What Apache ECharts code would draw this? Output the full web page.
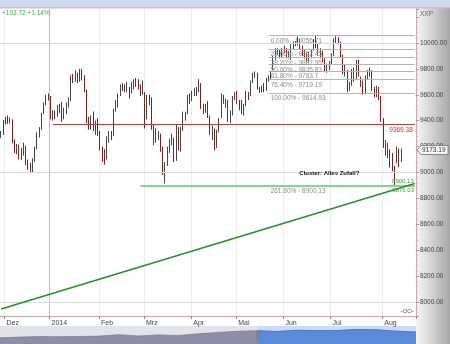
<!DOCTYPE html>
<html><head><meta charset="utf-8">
<script src="https://cdn.jsdelivr.net/npm/echarts@6/dist/echarts.min.js"></script>
<style>html,body{margin:0;padding:0;background:#fff}#c{width:450px;height:344px}</style>
</head><body><div id="c"></div>
<script>
// ---------- data ----------
const monthLabels = ['Dez','2014','Feb','Mrz','Apr','Mai','Jun','Jul','Aug'];
const leadBars = 2;                       // 28./29. Nov 2013
const barsPerMonth = [20,22,20,21,20,21,21,23,9];
const padSlots = 6;
// [open, close, low, high]
const novBars = [[9290,9300,9265,9320],[9300,9390,9290,9405]];
const decBars = [
[9395,9410,9370,9430],[9410,9395,9375,9440],[9395,9405,9380,9425],[9400,9240,9225,9410],[9240,9180,9150,9255],
[9185,9200,9140,9220],[9200,9120,9100,9215],[9120,9160,9095,9190],[9160,9200,9130,9230],[9195,9070,9055,9205],
[9070,9050,9020,9100],[9050,9010,8995,9075],[9010,9090,9000,9110],[9100,9180,9080,9200],[9190,9290,9180,9310],
[9290,9330,9270,9350],[9340,9440,9330,9460],[9460,9520,9450,9540],[9540,9580,9520,9600],[9570,9590,9555,9610]];
const janBars = [
[9580,9430,9410,9590],[9430,9450,9400,9480],[9450,9440,9410,9480],[9440,9500,9430,9520],[9500,9490,9460,9530],
[9495,9420,9390,9545],[9430,9480,9410,9500],[9480,9520,9450,9540],[9520,9545,9500,9580],[9560,9730,9550,9750],
[9730,9720,9690,9760],[9720,9745,9700,9790],[9745,9720,9690,9770],[9720,9760,9700,9800],[9760,9730,9710,9800],
[9730,9640,9620,9750],[9630,9400,9380,9640],[9400,9350,9330,9430],[9350,9410,9330,9440],[9410,9340,9320,9470],
[9340,9370,9290,9400],[9370,9310,9280,9420]];
const febBars = [
[9300,9190,9170,9320],[9180,9130,9080,9200],[9130,9115,9060,9180],[9120,9260,9100,9280],[9270,9300,9230,9320],
[9300,9285,9250,9320],[9290,9480,9280,9490],[9480,9540,9470,9560],[9530,9595,9500,9610],[9600,9660,9590,9680],
[9660,9655,9630,9690],[9655,9660,9620,9680],[9660,9665,9620,9700],[9650,9615,9570,9660],[9620,9655,9610,9700],
[9660,9705,9640,9720],[9710,9700,9660,9730],[9700,9660,9640,9720],[9660,9630,9590,9680],[9630,9690,9600,9710]];
const marBars = [
[9600,9360,9340,9620],[9420,9590,9410,9600],[9580,9540,9520,9600],[9540,9350,9330,9580],[9340,9350,9210,9370],
[9330,9265,9230,9340],[9270,9300,9250,9320],[9290,9190,9160,9300],[9190,9020,8980,9200],[9010,9060,8915,9080],
[9070,9180,9050,9200],[9180,9240,9150,9260],[9240,9280,9210,9300],[9260,9095,9080,9270],[9100,9340,9090,9370],
[9330,9190,9170,9350],[9190,9340,9160,9350],[9340,9450,9320,9470],[9440,9450,9400,9470],[9460,9590,9450,9600],
[9590,9555,9530,9610]];
const aprBars = [
[9570,9600,9550,9630],[9610,9625,9590,9650],[9625,9630,9590,9660],[9640,9695,9620,9720],[9680,9510,9490,9690],
[9510,9490,9450,9530],[9490,9505,9460,9530],[9520,9455,9420,9550],[9430,9315,9290,9440],[9320,9340,9250,9360],
[9330,9175,9170,9340],[9200,9320,9190,9330],[9330,9410,9310,9420],[9430,9600,9420,9610],[9590,9545,9530,9600],
[9540,9550,9500,9570],[9540,9400,9390,9560],[9410,9445,9380,9480],[9450,9585,9440,9590],[9580,9600,9560,9620]];
const mayBars = [
[9610,9555,9530,9630],[9550,9530,9480,9560],[9530,9470,9450,9560],[9460,9520,9440,9530],[9530,9605,9510,9630],
[9600,9580,9560,9620],[9600,9700,9590,9710],[9710,9755,9690,9770],[9755,9760,9730,9780],[9750,9655,9640,9770],
[9640,9630,9615,9660],[9620,9660,9618,9670],[9665,9640,9620,9690],[9640,9720,9630,9730],[9720,9725,9700,9750],
[9730,9770,9720,9780],[9800,9890,9790,9900],[9890,9940,9870,9960],[9940,9935,9910,9960],[9930,9900,9880,9950],
[9910,9945,9890,9960]];
const junBars = [
[9950,9955,9920,9980],[9950,9920,9880,9960],[9910,9925,9880,9940],[9930,9950,9870,9990],[9960,9990,9950,10010],
[9990,9995,9975,10015],[9995,10030,9980,10050],[10020,9970,9950,10030],[9960,9940,9900,9980],[9930,9910,9880,9950],
[9890,9880,9850,9920],[9880,9920,9850,9930],[9920,9930,9880,9950],[9950,10005,9940,10030],[10000,9987,9960,10057],
[9980,9920,9900,9990],[9920,9940,9880,9960],[9930,9870,9850,9940],[9860,9805,9780,9880],[9810,9815,9770,9840],
[9820,9835,9790,9860]];
const julBars = [
[9840,9900,9830,9920],[9910,10030,9900,10035],[10020,10050,10000,10052],[10040,10010,9990,10045],[10000,9905,9890,10010],
[9900,9770,9760,9910],[9770,9810,9740,9830],[9780,9660,9620,9790],[9650,9665,9630,9700],[9680,9785,9670,9800],
[9780,9720,9700,9810],[9730,9860,9720,9870],[9850,9755,9740,9870],[9700,9720,9660,9740],[9700,9610,9600,9710],
[9620,9735,9610,9750],[9730,9755,9720,9790],[9760,9800,9740,9810],[9780,9645,9630,9790],[9640,9595,9580,9660],
[9600,9655,9580,9670],[9640,9595,9560,9660],[9580,9410,9390,9590]];
const augBars = [
[9400,9210,9190,9420],[9220,9155,9130,9250],[9160,9190,9110,9230],[9170,9130,9040,9180],[9130,9040,9010,9150],
[9020,9010,8903,9050],[9080,9180,9070,9200],[9170,9070,9040,9185],[9090,9173.19,9080,9185]];

const yLabelValues = [8000,8200,8400,8600,8800,9000,9200,9400,9600,9800,10000];
const gridLevels = [8000,9000,10000];
const fibPercents = ['0.00%','23.60%','38.20%','50.00%','61.80%','76.40%','100.00%','261.80%'];
const fibValues = [10056.71,9952.45,9887.95,9835.83,9783.7,9719.19,9614.93,8900.13];
const fibStartIdx = 119;
const redLevel = 9369.38, redStartIdx = 23;
const greenLevel = 8900.13, greenStartIdx = 62;
const trendValues = [7946, 8915];
const trendLabel = '8876.03';
const lastPrice = 9173.19;
const changeText = '+103.72 +1.14%';
const noteText = 'Cluster: Alles Zufall?', noteIdx = 146, noteValue = 8990;

const navMonths = ['Nov12','Dez12','Jan13','Feb13','Mrz13','Apr13','Mai13','Jun13','Jul13','Aug13','Sep13','Okt13',
  'Nov13','Dez13','Jan14','Feb14','Mrz14','Apr14','Mai14','Jun14','Jul14','Aug14'];
const navValues = [7405,7612,7776,7741,7795,7914,8348,7959,8276,8103,8594,9033,9405,9552,9306,9692,9556,9603,9943,9833,9407,9173];
const navSelStart = 13;

// ---------- build ----------
const bars = [].concat(novBars,decBars,janBars,febBars,marBars,aprBars,mayBars,junBars,julBars,augBars);
const total = bars.length + padSlots;
const cats = Array.from({length: total}, (_, i) => 'b' + i);
const lastCat = cats[total - 1];
const labelAt = {};
let k = leadBars;
barsPerMonth.forEach((n, m) => { labelAt[k] = monthLabels[m]; k += n; });
const isMonthStart = (idx) => labelAt[idx] !== undefined;
const FONT = 'Liberation Sans, Arial, sans-serif';

const chart = echarts.init(document.getElementById('c'));
const vColors = monthLabels.map(l => l === '2014' ? '#bdbdbd' : '#ededed');

chart.setOption({
  animation: false,
  backgroundColor: '#ffffff',
  textStyle: {fontFamily: FONT},
  grid: [
    {left: 0, right: 34, top: 9, bottom: 28},
    {left: 0, right: 34, top: 326, height: 18}
  ],
  xAxis: [{
    type: 'category', data: cats, boundaryGap: true,
    axisLine: {show: true, lineStyle: {color: '#d6a6a6'}},
    axisTick: {show: true, interval: (i) => isMonthStart(i), length: 3, lineStyle: {color: '#888'}},
    axisLabel: {interval: (i) => isMonthStart(i), formatter: (v, i) => labelAt[i] || '',
      align: 'left', fontSize: 7, color: '#444', margin: 4, padding: [0,0,0,1], fontFamily: FONT},
    splitLine: {show: true, interval: (i) => isMonthStart(i), lineStyle: {color: vColors, width: 1}}
  }, {
    type: 'category', gridIndex: 1, data: navMonths, boundaryGap: false, show: false
  }],
  yAxis: [{
    type: 'value', position: 'right', min: 7892, max: 10262, splitNumber: 12, scale: true,
    axisLine: {show: true, lineStyle: {color: '#d6a6a6'}},
    axisTick: {show: true, length: 3, lineStyle: {color: '#999'}},
    minorTick: {show: true, splitNumber: 5, length: 2, lineStyle: {color: '#bbb'}},
    axisLabel: {fontSize: 6.5, color: '#444', margin: 4, showMinLabel: false, showMaxLabel: false,
      formatter: (v) => yLabelValues.includes(v) ? v.toFixed(2) : '', fontFamily: FONT},
    splitLine: {show: false}
  }, {
    type: 'value', gridIndex: 1, min: 5500, max: 11000, show: false
  }],
  series: [
    { // reference lines (behind candles)
      type: 'line', data: [], z: 1, silent: true,
      markLine: {
        symbol: ['none','none'], silent: true, animation: false,
        data: [
          ...gridLevels.map(v => ({yAxis: v, lineStyle: {color: '#d8d8d8', width: 1, type: 'solid'}, label: {show: false}})),
          ...fibValues.map((v, i) => [
            {xAxis: cats[fibStartIdx], yAxis: v, lineStyle: {color: '#b4b4b4', width: 1, type: 'solid'},
             label: {show: true, position: 'insideStartBottom', formatter: fibPercents[i] + ' - ' + String(v),
               color: '#8a8a8a', fontSize: 6.5, distance: 2, fontFamily: FONT}},
            {xAxis: lastCat, yAxis: v}
          ]),
          [{xAxis: cats[redStartIdx], yAxis: redLevel, lineStyle: {color: '#c23b3b', width: 1, type: 'solid'},
            label: {show: true, position: 'insideEndBottom', formatter: String(redLevel), color: '#d03030', fontSize: 6.5, distance: 2}},
           {xAxis: lastCat, yAxis: redLevel}]
        ]
      }
    },
    {
      type: 'candlestick', data: bars, z: 3, barWidth: 1.2,
      itemStyle: {color: '#6c6c6c', borderColor: '#454545', color0: '#861c1c', borderColor0: '#861c1c', borderWidth: 1}
    },
    { // green support line
      type: 'line', data: [], z: 4, silent: true,
      markLine: {symbol: ['none','none'], silent: true, data: [
        [{xAxis: cats[greenStartIdx], yAxis: greenLevel, lineStyle: {color: '#8fd08f', width: 2, type: 'solid'},
          label: {show: true, position: 'insideEndTop', formatter: String(greenLevel), color: '#3c9c3c', fontSize: 6, distance: 1}},
         {xAxis: lastCat, yAxis: greenLevel}]
      ]}
    },
    { // trend line
      type: 'line', z: 5, symbol: 'none', silent: true,
      data: [[cats[0], trendValues[0]], [lastCat, trendValues[1]]],
      lineStyle: {color: '#2e8b2e', width: 1.5}
    },
    {
      type: 'line', xAxisIndex: 1, yAxisIndex: 1, data: navValues, symbol: 'none', z: 2,
      lineStyle: {color: '#6e6d8a', width: 0.6}, areaStyle: {color: '#8f8ea8', opacity: 1}
    },
    {
      type: 'line', xAxisIndex: 1, yAxisIndex: 1, data: navValues.map((v, i) => i >= navSelStart ? v : '-'),
      symbol: 'none', z: 3, lineStyle: {color: '#3a6cc0', width: 0.6}, areaStyle: {color: '#5a8bd8', opacity: 1}
    }
  ]
});

// overlay texts and panels positioned through the chart's scales
const py = (v) => chart.convertToPixel({yAxisIndex: 0}, v);
const px = (i) => chart.convertToPixel({xAxisIndex: 0}, cats[i]);
const navSelX = chart.convertToPixel({xAxisIndex: 1}, navMonths[navSelStart]);
const pY = py(lastPrice);
const tY = chart.convertToPixel({xAxisIndex: 0, yAxisIndex: 0}, [lastCat, trendValues[1]])[1];

chart.setOption({
  graphic: [
    {type: 'rect', z: -10, shape: {x: 416, y: 0, width: 34, height: 344},
      style: {fill: new echarts.graphic.LinearGradient(0, 0, 1, 0, [{offset: 0, color: '#f7f7f7'}, {offset: 1, color: '#a8a8a8'}])}},
    {type: 'rect', z: -10, shape: {x: 0, y: 0, width: 450, height: 7}, style: {fill: '#cfdcef'}},
    {type: 'rect', z: -10, shape: {x: 0, y: 7, width: 450, height: 1.5}, style: {fill: '#e6b3b3'}},
    {type: 'rect', z: -10, shape: {x: 0, y: 326, width: 416, height: 18}, style: {fill: '#e3e3ea'}},
    {type: 'rect', z: -9, shape: {x: navSelX, y: 326, width: 416 - navSelX, height: 18}, style: {fill: '#c9dcf3'}},
    {type: 'rect', z: 10, shape: {x: navSelX - 1, y: 331, width: 2, height: 8}, style: {fill: '#999', stroke: '#666', lineWidth: 0.5}},
    {type: 'text', z: 10, left: 2, top: 10, style: {text: changeText, fill: '#4aa84a', fontSize: 6.5, fontFamily: FONT}},
    {type: 'text', z: 10, left: 420, top: 11, style: {text: 'XXP', fill: '#666', fontSize: 6.5, fontFamily: FONT}},
    {type: 'polygon', z: 10, shape: {points: [[417, pY], [421, pY - 4.5], [448, pY - 4.5], [448, pY + 4.5], [421, pY + 4.5]]},
      style: {fill: '#f6f6f6', stroke: '#6f6f6f', lineWidth: 0.8}},
    {type: 'text', z: 11, x: 422, y: pY, style: {text: String(lastPrice), fill: '#333', fontSize: 6.5, fontFamily: FONT, verticalAlign: 'middle'}},
    {type: 'text', z: 11, x: 414, y: tY + 4, style: {text: trendLabel, fill: '#3c9c3c', fontSize: 6, fontFamily: FONT, align: 'right', verticalAlign: 'top'}},
    {type: 'text', z: 11, x: px(noteIdx), y: py(noteValue), style: {text: noteText, fill: '#111', fontSize: 6, fontWeight: 'bold', fontFamily: FONT, align: 'center', verticalAlign: 'middle'}},
    {type: 'text', z: 11, x: 414, y: 311, style: {text: '-OO-', fill: '#555', fontSize: 6, fontFamily: FONT, align: 'right', verticalAlign: 'middle'}}
  ]
});
</script></body></html>
